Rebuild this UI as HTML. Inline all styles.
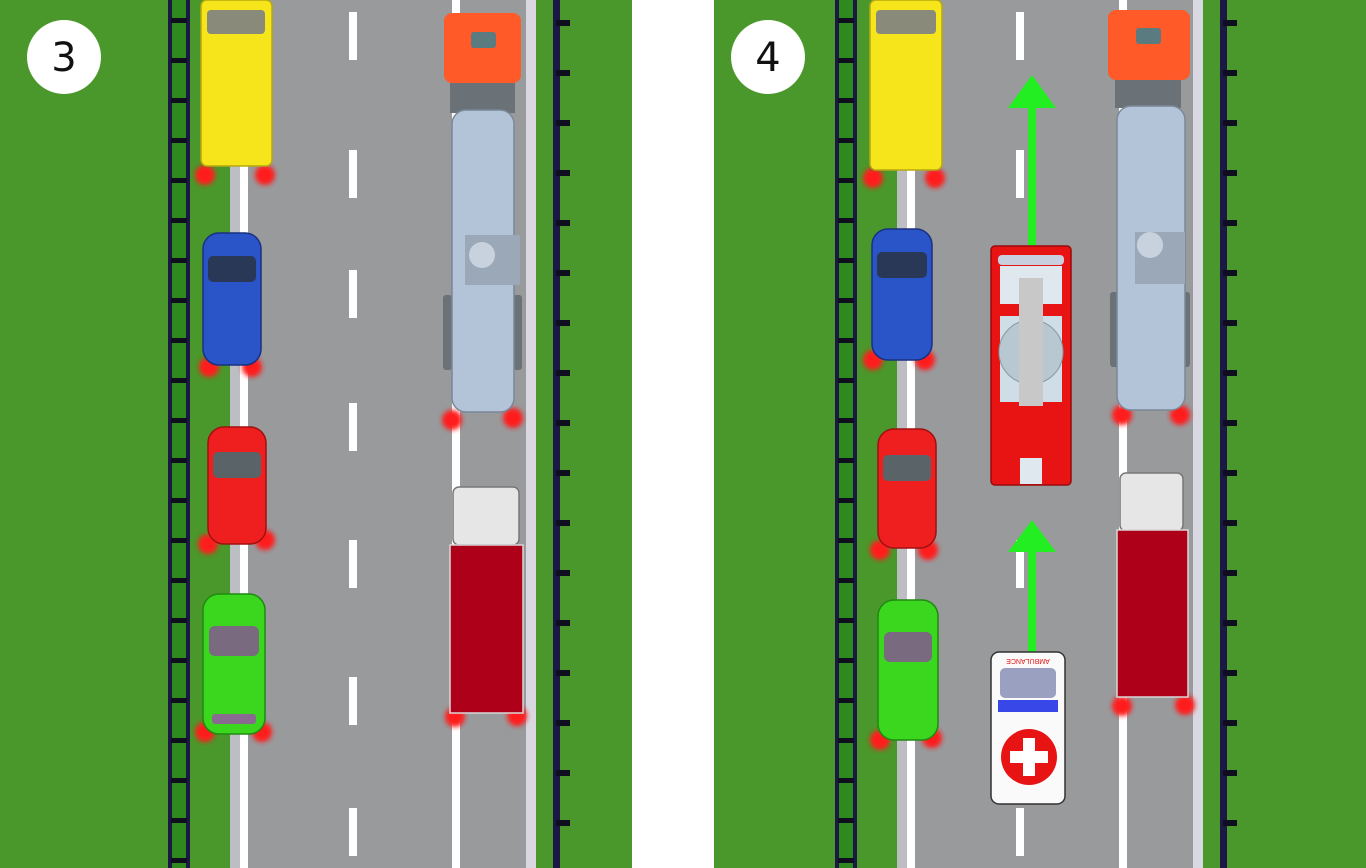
<!DOCTYPE html>
<html><head><meta charset="utf-8"><style>
html,body{margin:0;padding:0;background:#fff;}
svg{display:block}
</style></head><body>
<svg width="1366" height="868" viewBox="0 0 1366 868" xmlns="http://www.w3.org/2000/svg">
<defs>
<filter id="bl" x="-50%" y="-50%" width="200%" height="200%"><feGaussianBlur stdDeviation="2.5"/></filter>
<g id="road">
  <rect x="0" y="0" width="700" height="868" fill="#4a982b"/>
  <rect x="168" y="0" width="22" height="868" fill="#2f8a1e"/>
  <rect x="168" y="0" width="4" height="868" fill="#1c1845"/>
  <rect x="186" y="0" width="4" height="868" fill="#1c1845"/>
  <line x1="179" y1="0" x2="179" y2="868" stroke="#0e0e20" stroke-width="16" stroke-dasharray="5 35" stroke-dashoffset="-18"/>
  <rect x="230" y="0" width="306" height="868" fill="#999a9c"/>
  <rect x="230" y="0" width="10" height="868" fill="#bdbdc4"/>
  <rect x="240" y="0" width="8" height="868" fill="#fff"/>
  <rect x="452" y="0" width="8" height="868" fill="#fff"/>
  <rect x="526" y="0" width="10" height="868" fill="#d9d8e2"/>
  <rect x="553" y="0" width="7" height="868" fill="#1c1845"/>
  <line x1="563" y1="0" x2="563" y2="868" stroke="#0e0e20" stroke-width="14" stroke-dasharray="6 44" stroke-dashoffset="-20"/>
  <g fill="#fff">
    <rect x="349" y="12" width="8" height="48"/><rect x="349" y="150" width="8" height="48"/>
    <rect x="349" y="270" width="8" height="48"/><rect x="349" y="403" width="8" height="48"/>
    <rect x="349" y="540" width="8" height="48"/><rect x="349" y="677" width="8" height="48"/>
    <rect x="349" y="808" width="8" height="48"/>
  </g>
</g>
<clipPath id="cr"><rect x="714" y="0" width="652" height="868"/></clipPath>
</defs>

<use href="#road"/>
<rect x="632" y="0" width="82" height="868" fill="#fff"/>
<g clip-path="url(#cr)"><use href="#road" transform="translate(667,0)"/></g>

<!-- LEFT PANEL vehicles -->
<g filter="url(#bl)" fill="#ff1a1a">
 <circle cx="205" cy="175" r="10"/><circle cx="265" cy="175" r="10"/>
 <circle cx="209" cy="367" r="10"/><circle cx="252" cy="367" r="10"/>
 <circle cx="208" cy="544" r="10"/><circle cx="265" cy="540" r="10"/>
 <circle cx="205" cy="732" r="10"/><circle cx="262" cy="732" r="10"/>
 <circle cx="452" cy="420" r="10"/><circle cx="513" cy="418" r="10"/>
 <circle cx="455" cy="717" r="10"/><circle cx="517" cy="716" r="10"/>
</g>
<rect x="201" y="0" width="71" height="166" rx="6" fill="#f5e51a" stroke="#b8a810" stroke-width="1.5"/>
<rect x="207" y="10" width="58" height="24" rx="4" fill="#8a8a7a"/>
<rect x="203" y="233" width="58" height="132" rx="16" fill="#2a55c8" stroke="#1a3080" stroke-width="1.5"/>
<rect x="208" y="256" width="48" height="26" rx="5" fill="#2a3858"/>
<rect x="208" y="427" width="58" height="117" rx="16" fill="#f01f1f" stroke="#a01010" stroke-width="1.5"/>
<rect x="213" y="452" width="48" height="26" rx="5" fill="#5a6468"/>
<rect x="203" y="594" width="62" height="140" rx="16" fill="#3bd61e" stroke="#1f8a10" stroke-width="1.5"/>
<rect x="209" y="626" width="50" height="30" rx="6" fill="#7a6a80"/>
<rect x="212" y="714" width="44" height="10" rx="3" fill="#8a6a90"/>
<rect x="444" y="13" width="77" height="70" rx="8" fill="#ff5a28"/>
<rect x="471" y="32" width="25" height="16" rx="3" fill="#5a7c80"/>
<rect x="450" y="83" width="65" height="30" fill="#6a7278"/>
<rect x="443" y="295" width="9" height="75" rx="3" fill="#6a7278"/>
<rect x="513" y="295" width="9" height="75" rx="3" fill="#6a7278"/>
<rect x="452" y="110" width="62" height="302" rx="14" fill="#b4c4d8" stroke="#7a8898" stroke-width="1.5"/>
<rect x="465" y="235" width="55" height="50" fill="#9aa8b8"/>
<circle cx="482" cy="255" r="13" fill="#c8d2de"/>
<rect x="453" y="487" width="66" height="58" rx="6" fill="#e6e6e6" stroke="#777" stroke-width="1.5"/>
<rect x="450" y="545" width="73" height="168" fill="#ae0018" stroke="#d8d8d8" stroke-width="1.5"/>
<circle cx="64" cy="57" r="37" fill="#fff"/>
<text x="64" y="71" text-anchor="middle" font-family="DejaVu Sans, sans-serif" font-size="40" fill="#111">3</text>

<!-- RIGHT PANEL vehicles -->
<g filter="url(#bl)" fill="#ff1a1a">
 <circle cx="873" cy="178" r="10"/><circle cx="935" cy="178" r="10"/>
 <circle cx="873" cy="360" r="10"/><circle cx="925" cy="360" r="10"/>
 <circle cx="880" cy="550" r="10"/><circle cx="928" cy="550" r="10"/>
 <circle cx="880" cy="740" r="10"/><circle cx="932" cy="738" r="10"/>
 <circle cx="1122" cy="415" r="10"/><circle cx="1180" cy="415" r="10"/>
 <circle cx="1122" cy="706" r="10"/><circle cx="1185" cy="705" r="10"/>
</g>
<rect x="870" y="0" width="72" height="170" rx="6" fill="#f5e51a" stroke="#b8a810" stroke-width="1.5"/>
<rect x="876" y="10" width="60" height="24" rx="4" fill="#8a8a7a"/>
<rect x="872" y="229" width="60" height="131" rx="16" fill="#2a55c8" stroke="#1a3080" stroke-width="1.5"/>
<rect x="877" y="252" width="50" height="26" rx="5" fill="#2a3858"/>
<rect x="878" y="429" width="58" height="119" rx="16" fill="#f01f1f" stroke="#a01010" stroke-width="1.5"/>
<rect x="883" y="455" width="48" height="26" rx="5" fill="#5a6468"/>
<rect x="878" y="600" width="60" height="140" rx="16" fill="#3bd61e" stroke="#1f8a10" stroke-width="1.5"/>
<rect x="884" y="632" width="48" height="30" rx="6" fill="#7a6a80"/>
<rect x="1108" y="10" width="82" height="70" rx="8" fill="#ff5a28"/>
<rect x="1136" y="28" width="25" height="16" rx="3" fill="#5a7c80"/>
<rect x="1115" y="80" width="66" height="28" fill="#6a7278"/>
<rect x="1110" y="292" width="9" height="75" rx="3" fill="#6a7278"/>
<rect x="1181" y="292" width="9" height="75" rx="3" fill="#6a7278"/>
<rect x="1117" y="106" width="68" height="304" rx="14" fill="#b4c4d8" stroke="#7a8898" stroke-width="1.5"/>
<rect x="1135" y="232" width="50" height="52" fill="#9aa8b8"/>
<circle cx="1150" cy="245" r="13" fill="#c8d2de"/>
<rect x="1120" y="473" width="63" height="58" rx="6" fill="#e6e6e6" stroke="#777" stroke-width="1.5"/>
<rect x="1117" y="530" width="71" height="167" fill="#ae0018" stroke="#d8d8d8" stroke-width="1.5"/>
<rect x="1028" y="100" width="8" height="145" fill="#22ee22"/>
<polygon points="1032,75 1056,108 1008,108" fill="#22ee22"/>
<rect x="1028" y="545" width="8" height="108" fill="#22ee22"/>
<polygon points="1032,520 1056,552 1008,552" fill="#22ee22"/>
<rect x="991" y="246" width="80" height="239" rx="4" fill="#e81414" stroke="#9a0a0a" stroke-width="1.5"/>
<rect x="998" y="255" width="66" height="10" rx="4" fill="#c8d0e0"/>
<rect x="1000" y="266" width="62" height="38" fill="#dfe8ee"/>
<rect x="1000" y="316" width="62" height="86" fill="#cfdde6"/>
<circle cx="1031" cy="352" r="32" fill="#b8c8d0" stroke="#8898a0"/>
<rect x="1019" y="278" width="24" height="128" fill="#c8c8c8"/>
<rect x="1020" y="458" width="22" height="26" fill="#dfe8ee"/>
<rect x="991" y="652" width="74" height="152" rx="8" fill="#fafafa" stroke="#333" stroke-width="1.5"/>
<rect x="1000" y="668" width="56" height="30" rx="5" fill="#9aa0c0"/>
<rect x="998" y="700" width="60" height="12" fill="#3848e8"/>
<circle cx="1029" cy="757" r="28" fill="#e81414"/>
<rect x="1023" y="738" width="12" height="38" fill="#fff"/>
<rect x="1010" y="751" width="38" height="12" fill="#fff"/>
<text x="1028" y="663" text-anchor="middle" font-family="Liberation Sans, sans-serif" font-size="7" fill="#e81414" transform="rotate(180 1028 661)">AMBULANCE</text>
<circle cx="768" cy="57" r="37" fill="#fff"/>
<text x="768" y="71" text-anchor="middle" font-family="DejaVu Sans, sans-serif" font-size="40" fill="#111">4</text>
</svg>
</body></html>
